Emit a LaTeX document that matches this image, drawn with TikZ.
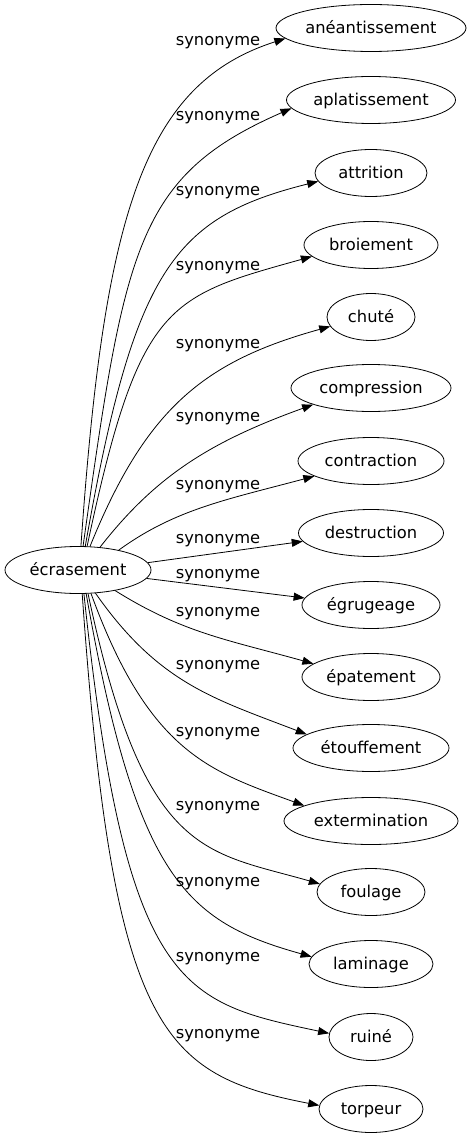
\documentclass[tikz,border=0pt]{standalone}
\usepackage{fontspec}
\setmainfont{DejaVu Sans}
\usetikzlibrary{arrows.meta,shapes.geometric}

\begin{document}
\begin{tikzpicture}[x=1pt, y=1pt,
  word/.style = {draw, ellipse, line width=0.8pt, minimum height=47pt, inner sep=0pt, text height=12pt, text depth=1pt, font=\fontsize{16.3}{19}\selectfont},
  syn/.style = {line width=0.8pt, -{Triangle[length=11pt,width=8pt]}},
  lbl/.style = {anchor=base, inner sep=0pt, font=\fontsize{16.3}{19}\selectfont}]

    \useasboundingbox (0,0) rectangle (471,-1139);

    % words
    \node[word, minimum width=146pt] (ecrasement) at (78,-570) {écrasement};
    \node[word, minimum width=190pt] (aneantissement) at (371,-28) {anéantissement};
    \node[word, minimum width=169pt] (aplatissement) at (371,-100) {aplatissement};
    \node[word, minimum width=112pt] (attrition) at (371,-173) {attrition};
    \node[word, minimum width=134pt] (broiement) at (371,-245) {broiement};
    \node[word, minimum width=88pt] (chute) at (371,-317) {chuté};
    \node[word, minimum width=160pt] (compression) at (371,-388) {compression};
    \node[word, minimum width=146pt] (contraction) at (371,-461) {contraction};
    \node[word, minimum width=145pt] (destruction) at (371,-533) {destruction};
    \node[word, minimum width=138pt] (egrugeage) at (371,-605) {égrugeage};
    \node[word, minimum width=138pt] (epatement) at (371,-677) {épatement};
    \node[word, minimum width=156pt] (etouffement) at (371,-748) {étouffement};
    \node[word, minimum width=174pt] (extermination) at (371,-821) {extermination};
    \node[word, minimum width=108pt] (foulage) at (371,-892) {foulage};
    \node[word, minimum width=124pt] (laminage) at (371,-964) {laminage};
    \node[word, minimum width=84pt] (ruine) at (371,-1037) {ruiné};
    \node[word, minimum width=104pt] (torpeur) at (371,-1109) {torpeur};

    % synonyme edges
    \draw[syn] (ecrasement.83) .. controls +(86:330) and +(197.7:150) .. (aneantissement.187) node[lbl] (s1) at (218,-46) {synonyme};
    \draw[syn] (ecrasement.78) .. controls +(82:300) and +(203.6:170) .. (aplatissement.186) node[lbl] (s2) at (218,-121) {synonyme};
    \draw[syn] (ecrasement.73) .. controls +(80:280) and +(194:150) .. (attrition.189) node[lbl] (s3) at (218,-196) {synonyme};
    \draw[syn] (ecrasement.69) .. controls +(78:250) and +(195.6:150) .. (broiement.191) node[lbl] (s4) at (218,-271) {synonyme};
    \draw[syn] (ecrasement.63) .. controls +(68:150) and +(195.5:130) .. (chute.193) node[lbl] (s5) at (218,-348) {synonyme};
    \draw[syn] (ecrasement.46) .. controls +(52:90) and +(199.8:110) .. (compression.196) node[lbl] (s6) at (218,-421) {synonyme};
    \draw[syn] (ecrasement.26) .. controls +(36:70) and +(195:90) .. (contraction.195) node[lbl] (s7) at (218,-489.5) {synonyme};
    \draw[syn] (ecrasement.6) -- (destruction.187) node[lbl] (s8) at (218,-543) {synonyme};
    \draw[syn] (ecrasement.-7) -- (egrugeage.174) node[lbl] (s9) at (218,-578.5) {synonyme};
    \draw[syn] (ecrasement.-29) .. controls +(-32:80) and +(164.4:90) .. (epatement.167) node[lbl] (s10) at (218,-616) {synonyme};
    \draw[syn] (ecrasement.-53) .. controls +(-55:110) and +(159:100) .. (etouffement.168) node[lbl] (s11) at (218,-669.5) {synonyme};
    \draw[syn] (ecrasement.-61) .. controls +(-70:170) and +(160:100) .. (extermination.167) node[lbl] (s12) at (218,-736) {synonyme};
    \draw[syn] (ecrasement.-67) .. controls +(-78:270) and +(164:120) .. (foulage.171) node[lbl] (s13) at (218,-810.5) {synonyme};
    \draw[syn] (ecrasement.-71) .. controls +(-80:290) and +(164.4:130) .. (laminage.173) node[lbl] (s14) at (218,-886) {synonyme};
    \draw[syn] (ecrasement.-76) .. controls +(-84:400) and +(168:150) .. (ruine.175) node[lbl] (s15) at (218,-961) {synonyme};
    \draw[syn] (ecrasement.-80) .. controls +(-86:440) and +(169:160) .. (torpeur.176) node[lbl] (s16) at (218,-1038) {synonyme};

\end{tikzpicture}
\end{document}
